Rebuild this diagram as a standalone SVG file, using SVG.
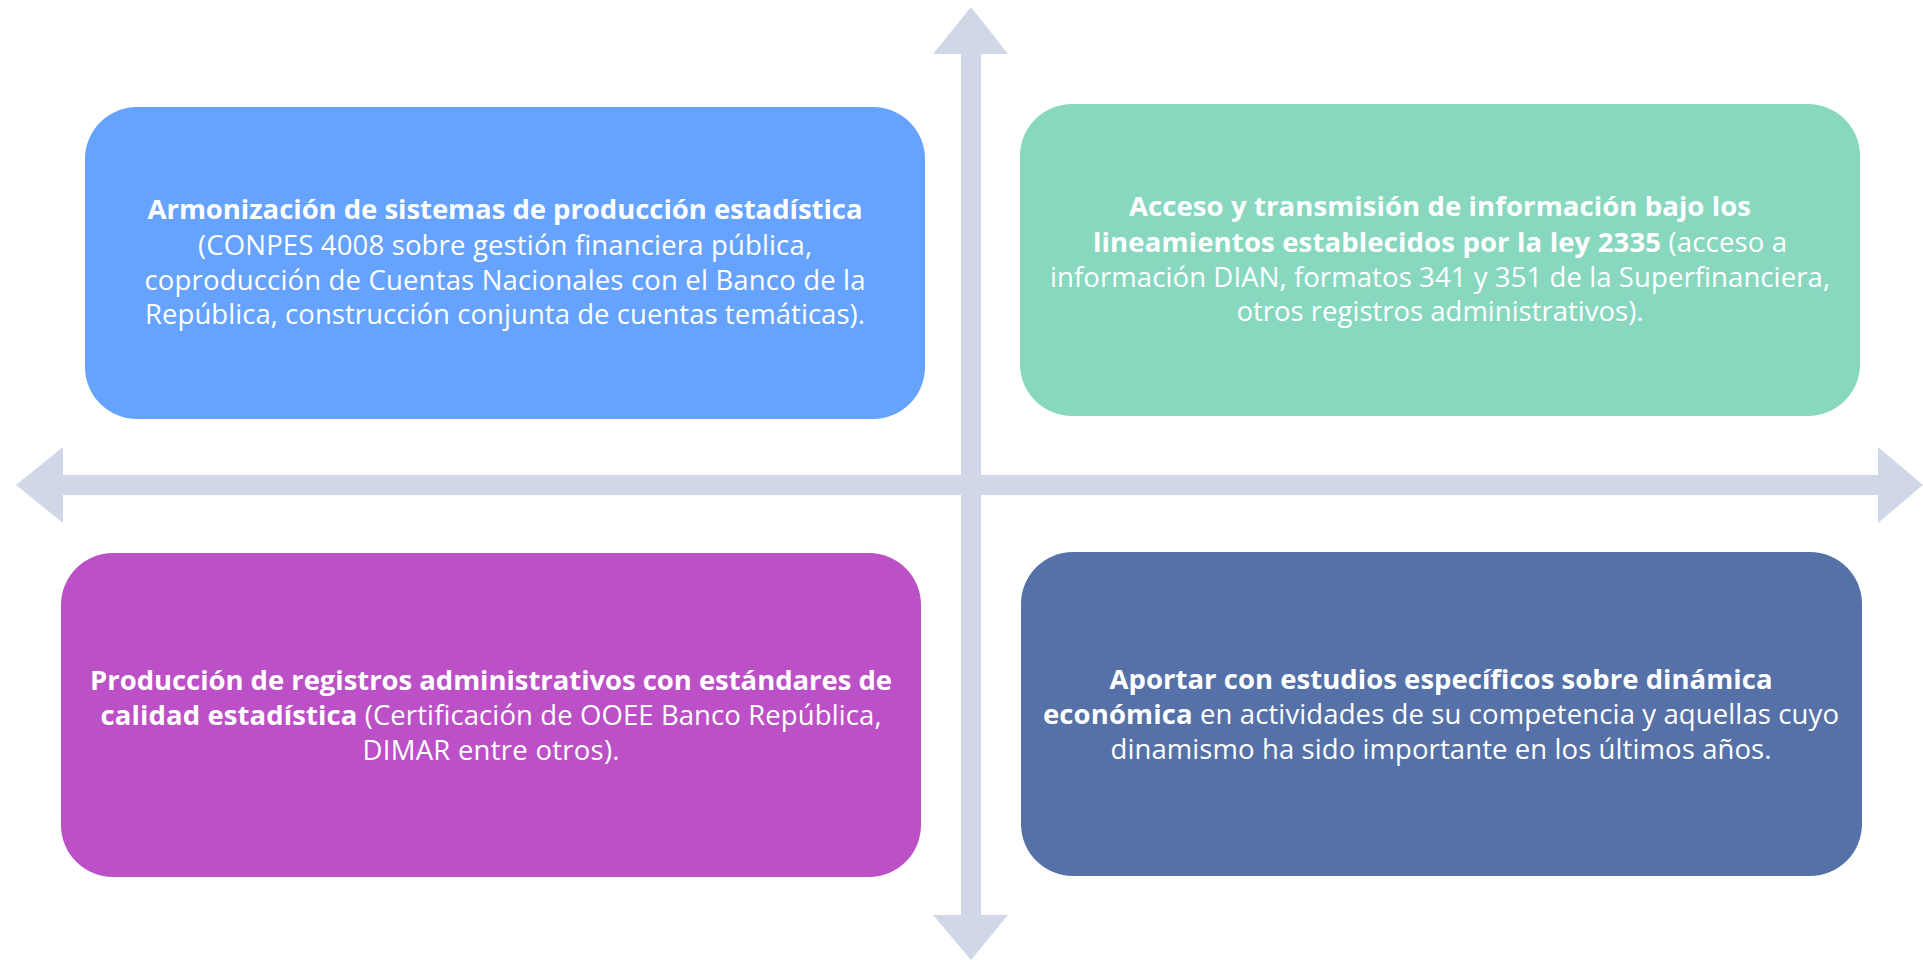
<svg xmlns="http://www.w3.org/2000/svg" width="1923" height="960" viewBox="0 0 1923 960">
<style>
.arrow{fill:#D0D8E8}
.t{font-family:"Open Sans","Noto Sans","Liberation Sans",sans-serif;font-size:27.5px;fill:#FFFFFF;text-anchor:middle}
.b{font-weight:bold}
</style>
<rect width="1923" height="960" fill="#FFFFFF"/>
<g id="connectors">
<polygon class="arrow" points="63,475 1878,475 1878,447 1923,485 1878,523 1878,495 63,495 63,523 16,485 63,447"/>
<polygon class="arrow" points="961,54 933,54 971,7 1008,54 981,54 981,915 1008,915 971,960 933,915 961,915"/>
</g>
<g id="node-armonizacion">
<rect x="85" y="107" width="840" height="312" rx="52" ry="52" fill="#65A3FF"/>
<text class="t b" x="505" y="219" textLength="715">Armonización de sistemas de producción estadística</text>
<text class="t" x="505" y="255" textLength="614">(CONPES 4008 sobre gestión financiera pública,</text>
<text class="t" x="505" y="290" textLength="721">coproducción de Cuentas Nacionales con el Banco de la</text>
<text class="t" x="505" y="324" textLength="720">República, construcción conjunta de cuentas temáticas).</text>
</g>
<g id="node-acceso">
<rect x="1020" y="104" width="840" height="312" rx="52" ry="52" fill="#88D8BF"/>
<text class="t b" x="1440" y="216" textLength="622">Acceso y transmisión de información bajo los</text>
<text class="t" x="1440" y="252" textLength="694"><tspan class="b">lineamientos establecidos por la ley 2335</tspan> (acceso a</text>
<text class="t" x="1440" y="287" textLength="780">información DIAN, formatos 341 y 351 de la Superfinanciera,</text>
<text class="t" x="1440" y="321" textLength="407">otros registros administrativos).</text>
</g>
<g id="node-produccion">
<rect x="61" y="553" width="860" height="324" rx="52" ry="52" fill="#BC50C6"/>
<text class="t b" x="491" y="690" textLength="802">Producción de registros administrativos con estándares de</text>
<text class="t" x="491" y="725" textLength="781"><tspan class="b">calidad estadística</tspan> (Certificación de OOEE Banco República,</text>
<text class="t" x="491" y="760" textLength="257">DIMAR entre otros).</text>
</g>
<g id="node-aportar">
<rect x="1021" y="552" width="841" height="324" rx="52" ry="52" fill="#5571A7"/>
<text class="t b" x="1441" y="689" textLength="663">Aportar con estudios específicos sobre dinámica</text>
<text class="t" x="1441" y="724" textLength="796"><tspan class="b">económica</tspan> en actividades de su competencia y aquellas cuyo</text>
<text class="t" x="1441" y="759" textLength="661">dinamismo ha sido importante en los últimos años.</text>
</g>
</svg>
